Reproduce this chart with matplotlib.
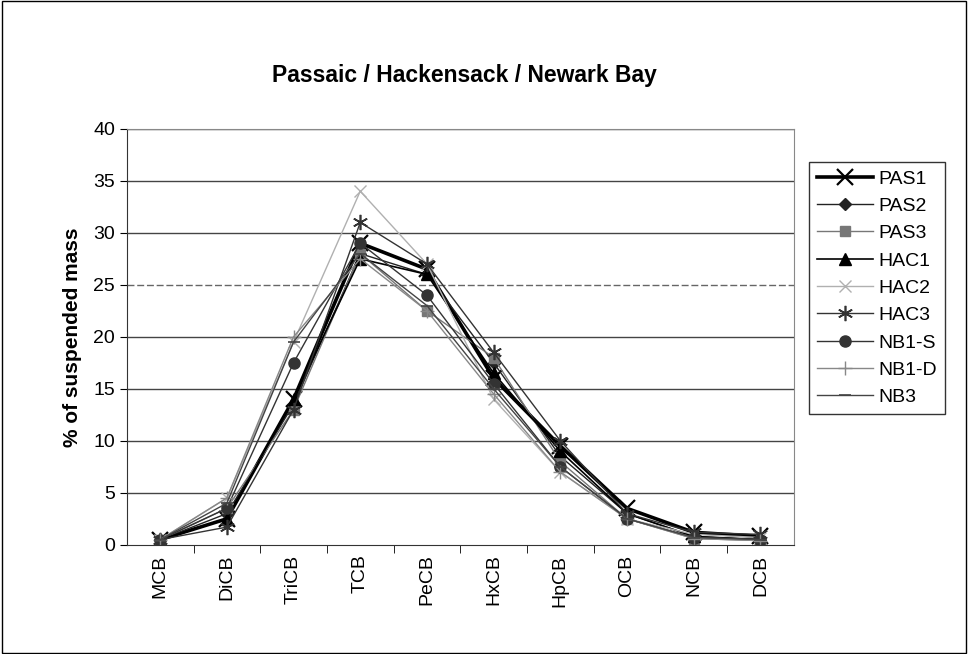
import matplotlib
matplotlib.use('Agg')
import matplotlib.pyplot as plt
from matplotlib.patches import Rectangle
import numpy as np

plt.rcParams['font.family'] = ['Liberation Sans', 'DejaVu Sans']

# ===== 数据 =====
groups = ['MCB', 'DiCB', 'TriCB', 'TCB', 'PeCB', 'HxCB', 'HpCB', 'OCB', 'NCB', 'DCB']

pas1 = [0.5, 2.5, 14.0, 29.0, 26.5, 16.0, 9.5, 3.5, 1.2, 0.8]
pas2 = [0.5, 3.0, 13.5, 28.0, 26.0, 17.5, 8.5, 3.0, 0.8, 0.5]
pas3 = [0.5, 3.5, 13.0, 28.0, 22.5, 18.0, 8.0, 2.5, 0.6, 0.4]
hac1 = [0.5, 2.5, 14.0, 27.5, 26.0, 16.5, 9.0, 3.0, 0.8, 0.5]
hac2 = [0.5, 4.5, 19.5, 34.0, 27.0, 14.0, 7.0, 2.5, 1.0, 0.7]
hac3 = [0.5, 1.7, 13.0, 31.0, 27.0, 18.5, 10.0, 3.0, 1.2, 1.0]
nb1s = [0.5, 3.5, 17.5, 29.0, 24.0, 15.5, 7.5, 2.5, 0.7, 0.5]
nb1d = [0.5, 4.5, 20.0, 27.5, 22.5, 14.5, 7.0, 2.5, 0.6, 0.4]
nb3 = [0.5, 4.0, 19.5, 28.0, 23.0, 15.0, 7.5, 2.5, 0.7, 0.5]

series = [
    ('PAS1', pas1, dict(color='black', lw=2.6, marker='x', ms=12, mew=1.6)),
    ('PAS2', pas2, dict(color='#222222', lw=1.0, marker='D', ms=6)),
    ('PAS3', pas3, dict(color='#777777', lw=1.0, marker='s', ms=7)),
    ('HAC1', hac1, dict(color='black', lw=1.2, marker='^', ms=8)),
    ('HAC2', hac2, dict(color='#b0b0b0', lw=1.0, marker='x', ms=9, mew=1.0)),
    ('HAC3', hac3, dict(color='#333333', lw=1.0, marker=(6, 2, 0), ms=11, mew=1.2)),
    ('NB1-S', nb1s, dict(color='#333333', lw=1.0, marker='o', ms=8)),
    ('NB1-D', nb1d, dict(color='#888888', lw=1.0, marker='+', ms=10, mew=1.0)),
    ('NB3', nb3, dict(color='#444444', lw=1.0, marker='_', ms=9, mew=1.2)),
]

fig = plt.figure(figsize=(9.68, 6.54), dpi=100)
ax = fig.add_axes([0.131, 0.167, 0.689, 0.636])

x = np.arange(len(groups))
for name, vals, st in series:
    ax.plot(x, vals, label=name, **st)

# 网格线
for v in range(5, 41, 5):
    if v == 25:
        ax.axhline(v, color='#666666', lw=1.0, ls=(0, (5, 2)), zorder=0)
    else:
        ax.axhline(v, color='#444444', lw=1.0, zorder=0)

ax.set_xlim(-0.5, 9.5)
ax.set_ylim(0, 40)
ax.set_yticks(range(0, 41, 5))
ax.set_xticks(x)
ax.set_xticklabels(groups, rotation=90)
ax.set_xticks(np.arange(0.5, 9.5, 1.0), minor=True)
ax.tick_params(axis='x', which='major', length=0, labelsize=14, pad=7)
ax.tick_params(axis='x', which='minor', length=6, direction='out')
ax.tick_params(axis='y', labelsize=14, length=5, direction='out')

for side in ['top', 'right']:
    ax.spines[side].set_color('#888888')
for side in ['left', 'bottom']:
    ax.spines[side].set_color('#333333')

ax.set_ylabel('% of suspended mass', fontsize=15, fontweight='bold', labelpad=8)
fig.text(0.48, 0.885, 'Passaic / Hackensack / Newark Bay', ha='center', va='center',
         fontsize=16.5, fontweight='bold')

leg = fig.legend(loc='upper left', bbox_to_anchor=(0.836, 0.752), fontsize=14,
                 frameon=True, fancybox=False, edgecolor='black', handlelength=2.9,
                 borderpad=0.4, labelspacing=0.5, handletextpad=0.25, borderaxespad=0)
leg.get_frame().set_linewidth(1.0)

# 外框
fig.patches.append(Rectangle((0.002, 0.002), 0.996, 0.996, transform=fig.transFigure,
                             fill=False, edgecolor='black', lw=1.0))

plt.savefig('out.png', dpi=100)
